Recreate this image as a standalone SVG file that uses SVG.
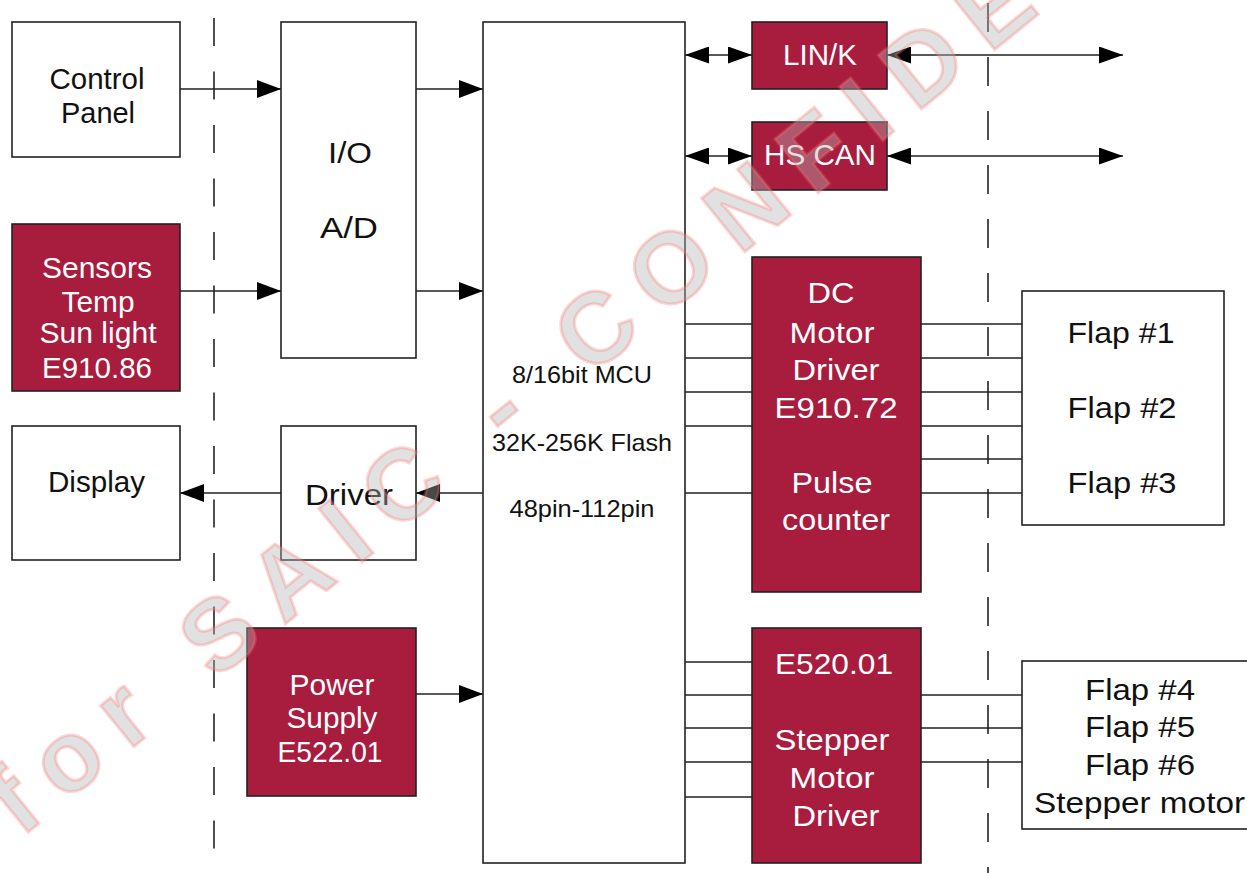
<svg xmlns="http://www.w3.org/2000/svg" width="1247" height="873" viewBox="0 0 1247 873">
<style>
.box{fill:#fff;stroke:#222;stroke-width:1.6}
.red{fill:#A81C3E;stroke:#222;stroke-width:1.6}
.t{font-family:"Liberation Sans",Arial,Helvetica,sans-serif;font-size:29px;fill:#111;text-anchor:middle}
.w{fill:#fff}
.m{font-size:24px}
.ln{stroke:#222;stroke-width:1.5;fill:none}
.dash{stroke:#222;stroke-width:1.6;fill:none}
.wm{font-family:"Liberation Sans",Arial,sans-serif;font-weight:bold;font-size:100px;letter-spacing:22px;fill:#b4b4b4;fill-opacity:0.4;stroke:#ff7070;stroke-opacity:0.3;stroke-width:3}
</style>
<defs>
<marker id="ah" viewBox="0 0 24 18" refX="24" refY="9" markerWidth="24" markerHeight="18" markerUnits="userSpaceOnUse" orient="auto-start-reverse"><path d="M0,0 L24,9 L0,18 z" fill="#000"/></marker>
<marker id="ah2" viewBox="0 0 24 17" refX="24" refY="8.5" markerWidth="24" markerHeight="17" markerUnits="userSpaceOnUse" orient="auto-start-reverse"><path d="M0,0 L24,8.5 L0,17 z" fill="#000"/></marker>
</defs>
<rect width="1247" height="873" fill="#fff"/>
<g id="separators">
<line class="dash" x1="214" y1="18" x2="214" y2="856" stroke-dasharray="28 25.5"/>
<line class="dash" x1="988" y1="3" x2="988" y2="873" stroke-dasharray="29 25"/>
</g>
<g id="connectors">
<line class="ln" x1="180" y1="89" x2="281" y2="89" marker-end="url(#ah)"/>
<line class="ln" x1="180" y1="291" x2="281" y2="291" marker-end="url(#ah)"/>
<line class="ln" x1="416" y1="89" x2="483" y2="89" marker-end="url(#ah)"/>
<line class="ln" x1="416" y1="291" x2="483" y2="291" marker-end="url(#ah)"/>
<line class="ln" x1="483" y1="493" x2="416" y2="493" marker-end="url(#ah)"/>
<line class="ln" x1="281" y1="493" x2="180" y2="493" marker-end="url(#ah)"/>
<line class="ln" x1="416" y1="694" x2="483" y2="694" marker-end="url(#ah)"/>
<line class="ln" x1="685" y1="55" x2="752" y2="55" marker-start="url(#ah2)" marker-end="url(#ah2)"/>
<line class="ln" x1="685" y1="156" x2="752" y2="156" marker-start="url(#ah2)" marker-end="url(#ah2)"/>
<line class="ln" x1="887" y1="55" x2="1123" y2="55" marker-start="url(#ah2)" marker-end="url(#ah2)"/>
<line class="ln" x1="887" y1="156" x2="1123" y2="156" marker-start="url(#ah2)" marker-end="url(#ah2)"/>
<path class="ln" d="M685,324H752M685,358H752M685,392H752M685,426H752M685,493H752"/>
<path class="ln" d="M921,324H1022M921,358H1022M921,392H1022M921,426H1022M921,459H1022M921,493H1022"/>
<path class="ln" d="M685,662H752M685,695H752M685,728H752M685,762H752M685,797H752"/>
<path class="ln" d="M921,695H1022M921,728H1022M921,762H1022"/>
</g>
<g id="control-panel">
<rect class="box" x="12" y="22" width="168" height="135"/>
<text class="t" x="97" y="89" textLength="95" lengthAdjust="spacingAndGlyphs">Control</text>
<text class="t" x="98" y="123" textLength="74" lengthAdjust="spacingAndGlyphs">Panel</text>
</g>
<g id="sensors">
<rect class="red" x="12" y="224" width="168" height="167"/>
<text class="t w" x="97" y="278" textLength="110" lengthAdjust="spacingAndGlyphs">Sensors</text>
<text class="t w" x="98" y="312" textLength="73" lengthAdjust="spacingAndGlyphs">Temp</text>
<text class="t w" x="98" y="343" textLength="117" lengthAdjust="spacingAndGlyphs">Sun light</text>
<text class="t w" x="97" y="378" textLength="110" lengthAdjust="spacingAndGlyphs">E910.86</text>
</g>
<g id="display">
<rect class="box" x="12" y="426" width="168" height="134"/>
<text class="t" x="96.5" y="492" textLength="97" lengthAdjust="spacingAndGlyphs">Display</text>
</g>
<g id="io-ad">
<rect class="box" x="281" y="22" width="135" height="336"/>
<text class="t" x="350" y="163" textLength="44" lengthAdjust="spacingAndGlyphs">I/O</text>
<text class="t" x="349" y="238" textLength="58" lengthAdjust="spacingAndGlyphs">A/D</text>
</g>
<g id="driver">
<rect class="box" x="281" y="426" width="135" height="134"/>
<text class="t" x="349" y="505" textLength="88" lengthAdjust="spacingAndGlyphs">Driver</text>
</g>
<g id="power-supply">
<rect class="red" x="247" y="628" width="169" height="168"/>
<text class="t w" x="332" y="695" textLength="85" lengthAdjust="spacingAndGlyphs">Power</text>
<text class="t w" x="332" y="728" textLength="91" lengthAdjust="spacingAndGlyphs">Supply</text>
<text class="t w" x="330" y="762" textLength="105" lengthAdjust="spacingAndGlyphs">E522.01</text>
</g>
<g id="mcu">
<rect class="box" x="483" y="22" width="202" height="841"/>
<text class="t m" x="582" y="383" textLength="140" lengthAdjust="spacingAndGlyphs">8/16bit MCU</text>
<text class="t m" x="582" y="451" textLength="180" lengthAdjust="spacingAndGlyphs">32K-256K Flash</text>
<text class="t m" x="582" y="517" textLength="145" lengthAdjust="spacingAndGlyphs">48pin-112pin</text>
</g>
<g id="lin-k">
<rect class="red" x="752" y="22" width="135" height="67"/>
<text class="t w" x="820" y="65" textLength="74" lengthAdjust="spacingAndGlyphs">LIN/K</text>
</g>
<g id="hs-can">
<rect class="red" x="752" y="122" width="135" height="68"/>
<text class="t w" x="820" y="165" textLength="112" lengthAdjust="spacingAndGlyphs">HS CAN</text>
</g>
<g id="dc-motor-driver">
<rect class="red" x="752" y="257" width="169" height="335"/>
<text class="t w" x="831" y="303" textLength="47" lengthAdjust="spacingAndGlyphs">DC</text>
<text class="t w" x="832" y="343" textLength="85" lengthAdjust="spacingAndGlyphs">Motor</text>
<text class="t w" x="836" y="380" textLength="87" lengthAdjust="spacingAndGlyphs">Driver</text>
<text class="t w" x="836" y="418" textLength="123" lengthAdjust="spacingAndGlyphs">E910.72</text>
<text class="t w" x="832" y="493" textLength="81" lengthAdjust="spacingAndGlyphs">Pulse</text>
<text class="t w" x="836" y="530" textLength="108" lengthAdjust="spacingAndGlyphs">counter</text>
</g>
<g id="stepper-motor-driver">
<rect class="red" x="752" y="628" width="169" height="235"/>
<text class="t w" x="834" y="674" textLength="118" lengthAdjust="spacingAndGlyphs">E520.01</text>
<text class="t w" x="832" y="750" textLength="115" lengthAdjust="spacingAndGlyphs">Stepper</text>
<text class="t w" x="832" y="788" textLength="85" lengthAdjust="spacingAndGlyphs">Motor</text>
<text class="t w" x="836" y="826" textLength="87" lengthAdjust="spacingAndGlyphs">Driver</text>
</g>
<g id="flaps-1-3">
<rect class="box" x="1022" y="291" width="202" height="234"/>
<text class="t" x="1121" y="343" textLength="107" lengthAdjust="spacingAndGlyphs">Flap #1</text>
<text class="t" x="1122" y="418" textLength="109" lengthAdjust="spacingAndGlyphs">Flap #2</text>
<text class="t" x="1122" y="493" textLength="109" lengthAdjust="spacingAndGlyphs">Flap #3</text>
</g>
<g id="flaps-4-6">
<rect class="box" x="1022" y="661" width="240" height="168"/>
<text class="t" x="1140" y="700" textLength="110" lengthAdjust="spacingAndGlyphs">Flap #4</text>
<text class="t" x="1140" y="737" textLength="110" lengthAdjust="spacingAndGlyphs">Flap #5</text>
<text class="t" x="1140" y="775" textLength="110" lengthAdjust="spacingAndGlyphs">Flap #6</text>
<text class="t" x="1139.5" y="813" textLength="211" lengthAdjust="spacingAndGlyphs">Stepper motor</text>
</g>
<g id="watermark">
<text class="wm" x="21" y="838" transform="rotate(-39 21 838)">for SAIC - CONFIDENTIAL</text>
</g>
</svg>
